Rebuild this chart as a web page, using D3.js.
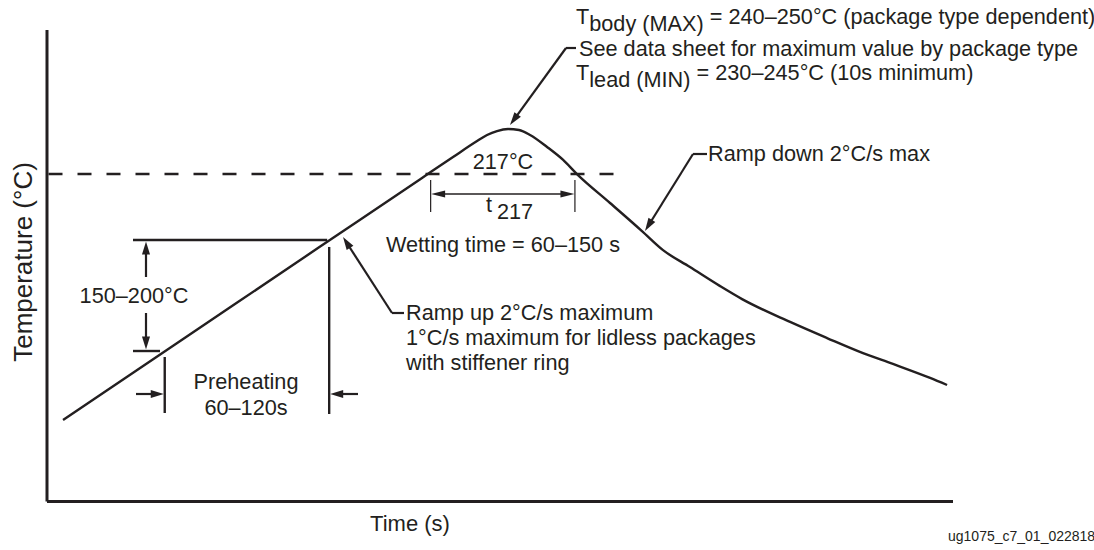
<!DOCTYPE html>
<html>
<head>
<meta charset="utf-8">
<script src="https://cdn.jsdelivr.net/npm/d3@7"></script>
<style>
  html, body { margin: 0; padding: 0; background: #fff; }
  svg text { font-family: "Liberation Sans", Arial, Helvetica, sans-serif; fill: #231f20; }
</style>
</head>
<body>
<svg id="chart" width="1094" height="550"></svg>
<script>
// ---- Data (schematic reflow profile) ----
const profileTime = [7.3, 60, 120, 165, 179.5, 190.1, 194.5, 198.9, 203.8, 208.6, 213.5, 221, 228.1, 234.2, 248.8, 262.9, 272.2, 284.1, 297.4, 307.1, 328.3, 344.6, 360.5, 373.7, 390.1, 397.6];
const profileTemp = [67.3, 116.3, 172.1, 213.9, 227.4, 237.1, 240.8, 243.2, 244.4, 243.8, 240.8, 233.5, 225.6, 217, 199.4, 182.3, 170.7, 160.4, 148.8, 140.9, 127, 117.2, 108, 101.4, 92.9, 88.6];
const liquidusTemp = 217;
const liquidusEndTime = 254;
const t217Times = [169.6, 233.3];
const preheatTimes = [52.2, 124.8];
const preheatTemps = [109.3, 176.9];
const axisLabels = ["Time (s)", "Temperature (°C)"];
const figureId = "ug1075_c7_01_022818";

const ink = "#231f20";
const FS = 21.7;
const svg = d3.select("#chart");

const x = d3.scaleLinear().domain([0, 400]).range([46.5, 952.5]);
const y = d3.scaleLinear().domain([18, 305]).range([501, 29.5]);

// axes (no ticks)
svg.append("g").attr("transform", `translate(0,${y(18)})`)
  .call(d3.axisBottom(x).tickValues([]).tickSizeOuter(0))
  .call(g => g.select(".domain").attr("stroke", ink).attr("stroke-width", 3));
svg.append("g").attr("transform", `translate(${x(0)},0)`)
  .call(d3.axisLeft(y).tickValues([]).tickSizeOuter(0))
  .call(g => g.select(".domain").attr("stroke", ink).attr("stroke-width", 3));

// dashed liquidus line
svg.append("line")
  .attr("x1", x(0) + 2).attr("x2", x(liquidusEndTime))
  .attr("y1", y(liquidusTemp)).attr("y2", y(liquidusTemp))
  .attr("stroke", ink).attr("stroke-width", 2.6)
  .attr("stroke-dasharray", "14,15");

// profile curve
const pts = profileTime.map((t, i) => [t, profileTemp[i]]);
svg.append("path").datum(pts)
  .attr("fill", "none").attr("stroke", ink).attr("stroke-width", 2.4)
  .attr("stroke-linejoin", "round")
  .attr("d", d3.line().x(d => x(d[0])).y(d => y(d[1])).curve(d3.curveMonotoneX));

// helpers
function line(x1, y1, x2, y2, w) {
  svg.append("line").attr("x1", x1).attr("y1", y1).attr("x2", x2).attr("y2", y2)
    .attr("stroke", ink).attr("stroke-width", w || 2.2);
}
function head(xt, yt, xf, yf, len, hw) {
  len = len || 13; hw = hw || 4;
  const dx = xt - xf, dy = yt - yf, L = Math.hypot(dx, dy);
  const ux = dx / L, uy = dy / L;
  const bx = xt - ux * len, by = yt - uy * len;
  svg.append("path")
    .attr("d", `M${xt},${yt}L${bx - uy * hw},${by + ux * hw}L${bx + uy * hw},${by - ux * hw}Z`)
    .attr("fill", ink);
}
function arrow(x1, y1, x2, y2, w) {
  const dx = x2 - x1, dy = y2 - y1, L = Math.hypot(dx, dy);
  line(x1, y1, x2 - dx / L * 8, y2 - dy / L * 8, w);
  head(x2, y2, x1, y1);
}
function text(s, tx, ty, anchor, size) {
  return svg.append("text").attr("x", tx).attr("y", ty)
    .attr("text-anchor", anchor || "start")
    .attr("font-size", size || FS).text(s);
}

// ---- preheat bracket ----
const pxL = x(preheatTimes[0]), pxR = x(preheatTimes[1]);
const pyLo = y(preheatTemps[0]), pyHi = y(preheatTemps[1]);
line(133, pyHi, pxR - 2, pyHi, 2.4);
line(133, pyLo, 160, pyLo, 2.4);
arrow(146, 277, 146, pyHi + 1.5);
arrow(146, 313, 146, pyLo - 1.5);
text("150–200°C", 134, 303, "middle");
line(pxL, pyLo + 6, pxL, 413, 2.4);
line(pxR, pyHi + 7, pxR, 414, 2.4);
arrow(136, 394, pxL - 1, 394);
arrow(358, 394, pxR + 1, 394);
text("Preheating", 246, 389, "middle");
text("60–120s", 246, 415, "middle");

// ---- 217 / t217 ----
text("217°C", 503, 169, "middle");
const tx1 = x(t217Times[0]), tx2 = x(t217Times[1]);
line(tx1, y(liquidusTemp) + 6, tx1, 212, 1.2);
line(tx2, y(liquidusTemp) + 6, tx2, 212, 1.2);
line(tx1 + 10, 194, tx2 - 10, 194, 1.6);
head(tx1 + 0.5, 194, tx2, 194, 14, 3.5);
head(tx2 - 0.5, 194, tx1, 194, 14, 3.5);
text("t", 486, 212, "start");
text("217", 497, 219, "start");
text("Wetting time = 60–150 s", 503, 252, "middle");

// ---- ramp up annotation ----
line(392, 313, 404, 313);
arrow(392, 313, 343, 237);
text("Ramp up 2°C/s maximum", 406, 320);
text("1°C/s maximum for lidless packages", 406, 345);
text("with stiffener ring", 406, 370);

// ---- ramp down annotation ----
line(693, 154, 707, 154);
arrow(693, 154, 645, 231);
text("Ramp down 2°C/s max", 708, 161);

// ---- peak annotation ----
line(566, 48, 576, 48);
arrow(566, 48, 510, 125);
const t1 = text("", 576, 24);
t1.append("tspan").text("T");
t1.append("tspan").attr("dy", 7).text("body (MAX)");
t1.append("tspan").attr("dy", -7).text(" = 240–250°C (package type dependent)");
text("See data sheet for maximum value by package type", 579, 56);
const t3 = text("", 576, 80);
t3.append("tspan").text("T");
t3.append("tspan").attr("dy", 7).text("lead (MIN)");
t3.append("tspan").attr("dy", -7).text(" = 230–245°C (10s minimum)");

// axis titles
text(axisLabels[0], 410, 531, "middle", 22);
text(axisLabels[1], 0, 0, "middle", 26)
  .attr("transform", `translate(32,262) rotate(-90)`);

text(figureId, 948, 541, "start", 14);
</script>
</body>
</html>
